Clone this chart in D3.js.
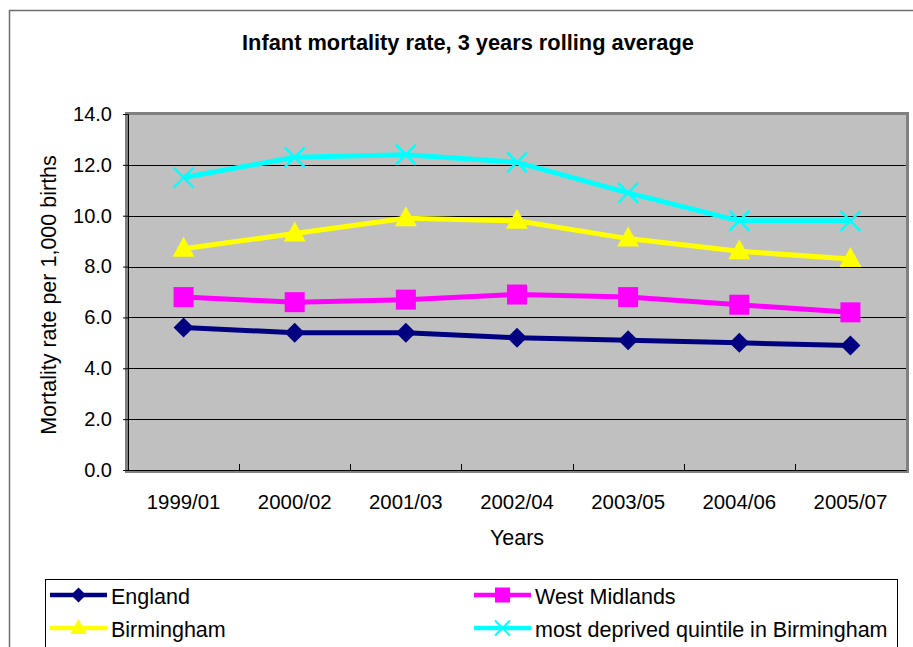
<!DOCTYPE html>
<html>
<head>
<meta charset="utf-8">
<script src="https://cdn.jsdelivr.net/npm/d3@7"></script>
<style>
  html, body { margin: 0; padding: 0; background: #ffffff; }
  svg { display: block; font-family: "Liberation Sans", Arial, sans-serif; }
</style>
</head>
<body>
<svg id="chart" width="913" height="647"></svg>
<script>
// Periods (3-year rolling windows)
const periods = ["1999/01", "2000/02", "2001/03", "2002/04", "2003/05", "2004/06", "2005/07"];

// Infant deaths per 1,000 live births
const england       = [5.6, 5.4, 5.4, 5.2, 5.1, 5.0, 4.9];
const westMidlands  = [6.8, 6.6, 6.7, 6.9, 6.8, 6.5, 6.2];
const birmingham    = [8.7, 9.3, 9.9, 9.8, 9.1, 8.6, 8.3];
const mostDeprived  = [11.5, 12.3, 12.4, 12.1, 10.9, 9.8, 9.8];

const yTicks = [0, 2, 4, 6, 8, 10, 12, 14];

const seriesList = [
  { name: "England", values: england, color: "#000080", marker: "diamond" },
  { name: "West Midlands", values: westMidlands, color: "#ff00ff", marker: "square" },
  { name: "Birmingham", values: birmingham, color: "#ffff00", marker: "triangle" },
  { name: "most deprived quintile in Birmingham", values: mostDeprived, color: "#00ffff", marker: "cross" }
];

const FONT = "Liberation Sans, Arial, sans-serif";
const svg = d3.select("#chart");

// Chart frame
svg.append("path")
  .attr("d", "M9.5,647 L9.5,10.5 L913,10.5")
  .attr("fill", "none").attr("stroke", "#6e6e6e").attr("stroke-width", 1.5);

// Title
svg.append("text")
  .attr("x", 468).attr("y", 50)
  .attr("text-anchor", "middle")
  .attr("font-size", 21.8).attr("font-weight", "bold")
  .text("Infant mortality rate, 3 years rolling average");

const plot = { left: 128, right: 906, top: 114, bottom: 470 };

const x = d3.scaleBand().domain(periods).range([plot.left, plot.right]);
const y = d3.scaleLinear().domain([0, 14]).range([plot.bottom, plot.top]);

// Plot background
svg.append("rect")
  .attr("x", plot.left).attr("y", plot.top)
  .attr("width", plot.right - plot.left).attr("height", plot.bottom - plot.top)
  .attr("fill", "#c0c0c0");

// Gridlines
svg.append("g")
  .selectAll("line")
  .data(yTicks.filter(t => t > 0 && t < 14))
  .join("line")
  .attr("x1", plot.left).attr("x2", plot.right)
  .attr("y1", d => Math.round(y(d)) + 0.5).attr("y2", d => Math.round(y(d)) + 0.5)
  .attr("stroke", "#000").attr("stroke-width", 1);

// Plot border (gray, heavier on top and right)
svg.append("path")
  .attr("d", `M${plot.left},${plot.top - 0.5} L${plot.right + 1.5},${plot.top - 0.5} L${plot.right + 1.5},${plot.bottom + 1}`)
  .attr("fill", "none").attr("stroke", "#808080").attr("stroke-width", 3);
svg.append("path")
  .attr("d", `M${plot.left - 1.5},${plot.top - 2} L${plot.left - 1.5},${plot.bottom + 1.5} L${plot.right + 3},${plot.bottom + 1.5}`)
  .attr("fill", "none").attr("stroke", "#808080").attr("stroke-width", 3);

// Y axis
const yAxis = svg.append("g")
  .attr("transform", `translate(${plot.left},0)`)
  .call(d3.axisLeft(y).tickValues(yTicks).tickFormat(d3.format(".1f")).tickSize(5).tickPadding(11));
yAxis.select(".domain").attr("stroke", "#000").attr("stroke-width", 1);
yAxis.selectAll(".tick line").attr("stroke", "#000");
yAxis.selectAll(".tick text").attr("font-size", 20).attr("fill", "#000").attr("font-family", FONT);

// X axis
const xAxis = svg.append("g")
  .attr("transform", `translate(0,${plot.bottom})`)
  .call(d3.axisBottom(x).tickSize(0).tickPadding(25));
xAxis.select(".domain").attr("stroke", "#000").attr("stroke-width", 1);
xAxis.selectAll(".tick text").attr("font-size", 20.4).attr("fill", "#000").attr("font-family", FONT);

// Category separator ticks
svg.append("g")
  .selectAll("line")
  .data(periods.slice(1))
  .join("line")
  .attr("x1", d => Math.round(x(d)) + 0.5).attr("x2", d => Math.round(x(d)) + 0.5)
  .attr("y1", plot.bottom - 6).attr("y2", plot.bottom)
  .attr("stroke", "#000");

// Axis titles
svg.append("text")
  .attr("x", 517).attr("y", 545)
  .attr("text-anchor", "middle").attr("font-size", 21.5)
  .text("Years");
svg.append("text")
  .attr("transform", "translate(56,295) rotate(-90)")
  .attr("text-anchor", "middle").attr("font-size", 21.5)
  .text("Mortality rate per 1,000 births");

// Marker drawing
function drawMarker(g, type, color) {
  if (type === "diamond") {
    g.append("path").attr("d", "M0,-10 L10,0 L0,10 L-10,0 Z").attr("fill", color);
  } else if (type === "square") {
    g.append("rect").attr("x", -10).attr("y", -10).attr("width", 20).attr("height", 20).attr("fill", color);
  } else if (type === "triangle") {
    g.append("path").attr("d", "M0,-12 L11,8 L-11,8 Z").attr("fill", color);
  } else if (type === "cross") {
    g.append("path").attr("d", "M-10,-10 L10,10 M-10,10 L10,-10")
      .attr("stroke", color).attr("stroke-width", 2.5).attr("fill", "none");
  }
}

const line = d3.line()
  .x((d, i) => x(periods[i]) + x.bandwidth() / 2)
  .y(d => y(d));

seriesList.forEach(s => {
  const g = svg.append("g");
  g.append("path")
    .datum(s.values)
    .attr("d", line)
    .attr("fill", "none")
    .attr("stroke", s.color)
    .attr("stroke-width", 5)
    .attr("stroke-linejoin", "round");
  s.values.forEach((v, i) => {
    const m = g.append("g")
      .attr("transform", `translate(${x(periods[i]) + x.bandwidth() / 2},${y(v)})`);
    drawMarker(m, s.marker, s.color);
  });
});

// Legend
const legend = svg.append("g");
legend.append("rect")
  .attr("x", 45.5).attr("y", 579.5).attr("width", 852).attr("height", 80)
  .attr("fill", "#fff").attr("stroke", "#000").attr("stroke-width", 1);

const legendPos = [
  { x: 50, y: 595 },
  { x: 474, y: 595 },
  { x: 50, y: 628 },
  { x: 474, y: 628 }
];

seriesList.forEach((s, i) => {
  const p = legendPos[i];
  const g = legend.append("g");
  g.append("line")
    .attr("x1", p.x).attr("x2", p.x + 57)
    .attr("y1", p.y).attr("y2", p.y)
    .attr("stroke", s.color).attr("stroke-width", 4.5);
  const m = g.append("g").attr("transform", `translate(${p.x + 28.5},${p.y}) scale(0.75)`);
  drawMarker(m, s.marker, s.color);
  g.append("text")
    .attr("x", p.x + 61).attr("y", p.y + 9)
    .attr("font-size", 21.5)
    .text(s.name);
});
</script>
</body>
</html>
